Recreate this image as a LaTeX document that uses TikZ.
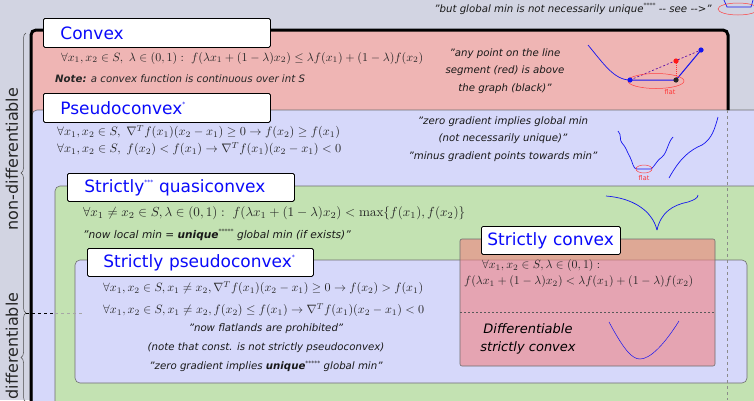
\documentclass[tikz,border=0pt]{standalone}
\usepackage{graphicx}
\usepackage[no-math]{fontspec}
\setmainfont{DejaVu Sans}
\usetikzlibrary{decorations.pathreplacing}
\definecolor{bgc}{RGB}{210,212,226}
\definecolor{convexred}{RGB}{239,181,180}
\definecolor{pseudoblue}{RGB}{214,216,250}
\definecolor{quasigreen}{RGB}{195,226,178}
\definecolor{strictred}{RGB}{240,130,130}
\definecolor{titleblue}{RGB}{10,10,250}
\definecolor{sketchblue}{RGB}{20,20,240}
\definecolor{edgegray}{RGB}{110,110,110}
\newcommand\sstar[1]{\raisebox{0.85ex}{\fontsize{6}{6}\selectfont #1}}
\newcommand\fw[2]{\resizebox{#1pt}{!}{$#2$}}
\begin{document}
\begin{tikzpicture}[x=1pt,y=-1pt,
  titlebox/.style={draw=black, fill=white, line width=0.8pt, rounded corners=1.5pt, anchor=north west, inner ysep=0pt, align=left, font=\fontsize{17}{20}\selectfont, text=titleblue},
  formula/.style={anchor=west, inner sep=0pt, font=\fontsize{10}{12}\selectfont, text=black!85},
  quote/.style={inner sep=0pt, font=\fontsize{10.2}{17.5}\selectfont\itshape, align=center, text=black!90},
  regionbox/.style={draw=edgegray, line width=0.6pt, rounded corners=5pt},
  sketch/.style={draw=sketchblue, line width=0.7pt},
  flatmark/.style={draw=red!75, line width=0.5pt},
  flattext/.style={inner sep=0pt, text=red!80, font=\fontsize{6.5}{7}\selectfont},
  sidebrace/.style={decorate, decoration={brace, amplitude=5pt}, draw=black!70, line width=0.5pt},
  sidelabel/.style={rotate=90, inner sep=0pt, font=\fontsize{16}{18}\selectfont, text=black!85}]
\useasboundingbox (0,0) rectangle (754,400);
\clip (0,0) rectangle (754,400);
\fill[bgc] (0,0) rectangle (754,400);
% regions
\fill[convexred, rounded corners=5pt] (31,30) rectangle (728,130);
\path[regionbox, fill=pseudoblue] (32,110) rectangle (790,440);
\draw[line width=3pt, rounded corners=5pt] (31,430) -- (31,30) -- (728,30) -- (728,110);
\path[regionbox, fill=quasigreen] (55,186) rectangle (790,440);
\path[regionbox, fill=pseudoblue] (75,260) rectangle (747,383);
\path[draw=edgegray, line width=0.6pt, rounded corners=2pt, fill=strictred, fill opacity=0.6] (460,239) rectangle (715,366);
\draw[black!65, line width=0.6pt, dash pattern=on 2pt off 2pt] (460,312) -- (715,312);
\draw[edgegray!80, line width=0.6pt, dash pattern=on 3pt off 3pt] (727,110) -- (727,400);
% titles
\node (tConvex) [titlebox, minimum width=227pt, minimum height=29pt, text width=193pt, inner xsep=17pt] at (43,18) {Convex};
\node (tPseudo) [titlebox, minimum width=227pt, minimum height=29pt, text width=193pt, inner xsep=17pt] at (43,93) {Pseudoconvex\sstar{*}};
\node (tQuasi) [titlebox, minimum width=227pt, minimum height=28pt, text width=193pt, inner xsep=17pt] at (67,173) {Strictly\sstar{***} quasiconvex};
\node (tSPseudo) [titlebox, minimum width=226pt, minimum height=28pt, text width=194pt, inner xsep=16pt] at (87,248) {Strictly pseudoconvex\sstar{*}};
\node (tSConvex) [titlebox, minimum width=139pt, minimum height=28pt, text width=127pt, inner xsep=6pt] at (481,226) {Strictly convex};
% convex texts
\node (fConvex) [formula] at (61,58) {\fw{362}{\forall x_1,x_2\in S,\ \lambda\in(0,1):\ f(\lambda x_1+(1-\lambda)x_2)\le\lambda f(x_1)+(1-\lambda)f(x_2)}};
\node (nConvex) [formula, font=\fontsize{10.2}{12}\selectfont\itshape] at (55,79) {\textbf{Note:} a convex function is continuous over int S};
\node (qConvex) [quote] at (505,71) {"any point on the line\\segment (red) is above\\the graph (black)"};
\node (qTop) [quote] at (573,9) {"but global min is not necessarily unique\sstar{****} -{}- see -{}->"};
% pseudoconvex texts
\node (fPseudoA) [formula] at (57,132) {\fw{283}{\forall x_1,x_2\in S,\ \nabla^T f(x_1)(x_2-x_1)\ge 0\to f(x_2)\ge f(x_1)}};
\node (fPseudoB) [formula] at (57,149) {\fw{284}{\forall x_1,x_2\in S,\ f(x_2)<f(x_1)\to\nabla^T f(x_1)(x_2-x_1)<0}};
\node (qPseudo) [quote] at (503,139) {"zero gradient implies global min\\(not necessarily unique)"\\"minus gradient points towards min"};
% quasiconvex texts
\node (fQuasi) [formula] at (83,213) {\fw{382}{\forall x_1\ne x_2\in S,\lambda\in(0,1):\ f(\lambda x_1+(1-\lambda)x_2)<\max\{f(x_1),f(x_2)\}}};
\node (qQuasi) [quote, anchor=west, font=\fontsize{10.6}{12}\selectfont\itshape] at (83,235) {"now local min = \textbf{unique}\sstar{*****} global min (if exists)"};
% strictly pseudoconvex texts
\node (fSPA) [formula] at (103,288) {\fw{320}{\forall x_1,x_2\in S,x_1\ne x_2,\nabla^T f(x_1)(x_2-x_1)\ge0\to f(x_2)>f(x_1)}};
\node (fSPB) [formula] at (103,310) {\fw{321}{\forall x_1,x_2\in S,x_1\ne x_2,f(x_2)\le f(x_1)\to\nabla^T f(x_1)(x_2-x_1)<0}};
\node (qSP) [quote, font=\fontsize{10.2}{19}\selectfont\itshape] at (266,348) {"now flatlands are prohibited"\\(note that const. is not strictly pseudoconvex)\\"zero gradient implies \textbf{unique}\sstar{*****} global min"};
% strictly convex texts
\node (fSCA) [formula] at (482,266) {\fw{118}{\forall x_1,x_2\in S,\lambda\in(0,1):}};
\node (fSCB) [formula] at (464,282) {\fw{229}{f(\lambda x_1+(1-\lambda)x_2)<\lambda f(x_1)+(1-\lambda)f(x_2)}};
\node (qSC) [inner sep=0pt, font=\fontsize{13}{18}\selectfont\itshape, align=center] at (528,339) {Differentiable\\strictly convex};
% convex sketch
\path[sketch] (588,45) .. controls (603,63) and (614,80) .. (630,80);
\draw[sketchblue, line width=1pt] (630,80) -- (676,80) -- (701,50);
\draw[sketchblue!70!red, line width=0.7pt, dash pattern=on 2pt off 2pt] (630,80) -- (701,50);
\draw[red!80, line width=0.7pt, dash pattern=on 1pt off 1pt] (676,61) -- (676,80);
\draw[flatmark] (656,81) ellipse [x radius=28, y radius=7.5];
\node (flatA) [flattext] at (670,92) {flat};
\fill[sketchblue] (630,80) circle [radius=2.6];
\fill[sketchblue] (701,50) circle [radius=2.6];
\fill[black!85] (676,80) circle [radius=2.6];
\fill[red!90] (676,61) circle [radius=2.6];
% top-right sketch
\path[sketch] (724,0) -- (727,7) -- (751,7) -- (753,0);
\draw[flatmark] (738,9) ellipse [x radius=20, y radius=6];
% pseudoconvex sketches
\path[sketch] (618,131) .. controls (622,135) and (619,140) .. (622,143) .. controls (626,147) and (627,152) .. (630,157) .. controls (633,163) and (633,169) .. (637,169) -- (651,169) .. controls (655,166) and (657,160) .. (662,157) .. controls (667,153) and (668,142) .. (673,137);
\draw[flatmark] (644,169) ellipse [x radius=8, y radius=4];
\node (flatB) [flattext] at (644,178) {flat};
\path[sketch] (669,178) .. controls (680,158) and (690,150) .. (702,145) .. controls (712,139) and (715,128) .. (718,117);
% quasiconvex sketch
\path[sketch] (606,196) .. controls (632,198) and (652,210) .. (657,230);
\path[sketch] (657,230) .. controls (661,212) and (673,205) .. (688,202) .. controls (694,200) and (698,198) .. (698,195);
% strictly convex sketch
\path[sketch, line width=0.5pt] (609,322) .. controls (624,350) and (632,359) .. (640,359) .. controls (650,359) and (664,345) .. (679,321);
% side braces and labels
\coordinate (ndTop) at (26,33);
\coordinate (ndBot) at (26,313);
\coordinate (dBot) at (26,402);
\coordinate (splitEnd) at (85,313);
\coordinate (splitMid) at (55,313);
\draw[sidebrace] (ndBot) -- (ndTop);
\draw[sidebrace] (dBot) -- (ndBot);
\draw[black, line width=0.6pt, dash pattern=on 3pt off 3pt] (ndBot) -- (splitMid);
\draw[black!35, line width=0.6pt, dash pattern=on 3pt off 3pt] (splitMid) -- (splitEnd);
\node (lblND) [sidelabel] at (12,159) {non-differentiable};
\node (lblD) [sidelabel] at (12,346) {differentiable};
\end{tikzpicture}
\end{document}
